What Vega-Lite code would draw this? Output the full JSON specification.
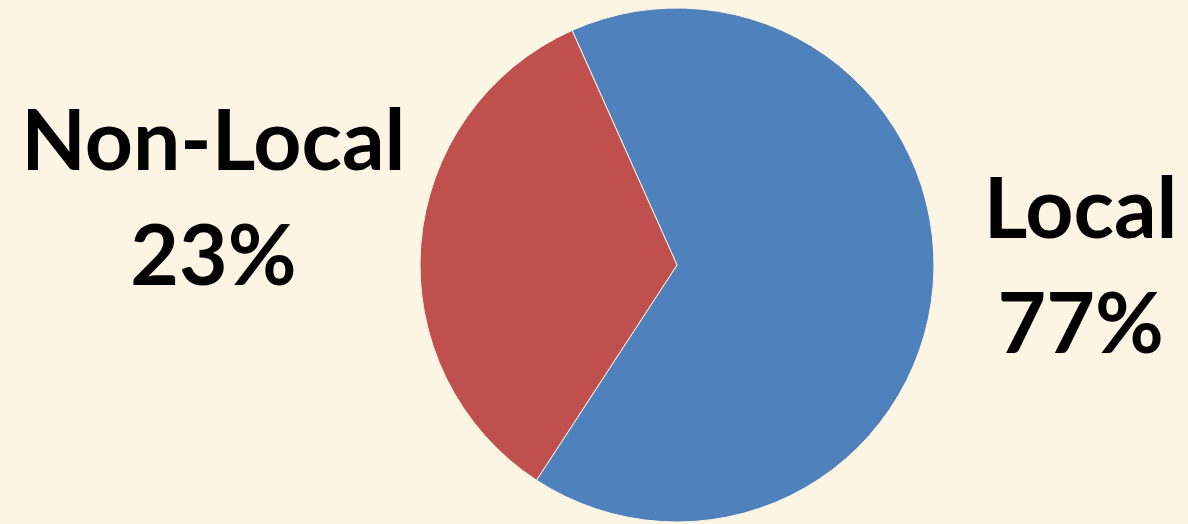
{
  "$schema": "https://vega.github.io/schema/vega-lite/v6.json",
  "autosize": {"type": "none"},
  "width": 514,
  "height": 514,
  "padding": {"left": 420, "top": 8, "right": 254, "bottom": 2},
  "background": "#FDF5E3",
  "config": {"view": {"stroke": null}},
  "data": {
    "values": [
      {"category": "Local", "percent": "77%", "wedge": 65.9},
      {"category": "Non-Local", "percent": "23%", "wedge": 34.1}
    ]
  },
  "encoding": {
    "theta": {
      "field": "wedge",
      "type": "quantitative",
      "stack": true,
      "scale": {"range": [5.8626, 12.1458]}
    },
    "order": {"field": "category", "type": "ordinal"}
  },
  "layer": [
    {
      "mark": {"type": "arc", "outerRadius": 257, "stroke": "#FDF5E3", "strokeWidth": 1},
      "encoding": {
        "color": {
          "field": "category",
          "type": "nominal",
          "scale": {"domain": ["Local", "Non-Local"], "range": ["#4F81BD", "#C0504D"]},
          "legend": null
        }
      }
    },
    {
      "mark": {"type": "text", "radius": 435, "dx": -30, "dy": -61, "baseline": "alphabetic", "align": "center", "font": "Lato", "fontWeight": "bold", "fontSize": 84, "color": "#000000"},
      "encoding": {"text": {"field": "category", "type": "nominal"}}
    },
    {
      "mark": {"type": "text", "radius": 435, "dx": -30, "dy": 54, "baseline": "alphabetic", "align": "center", "font": "Lato", "fontWeight": "bold", "fontSize": 84, "color": "#000000"},
      "encoding": {"text": {"field": "percent", "type": "nominal"}}
    }
  ]
}
